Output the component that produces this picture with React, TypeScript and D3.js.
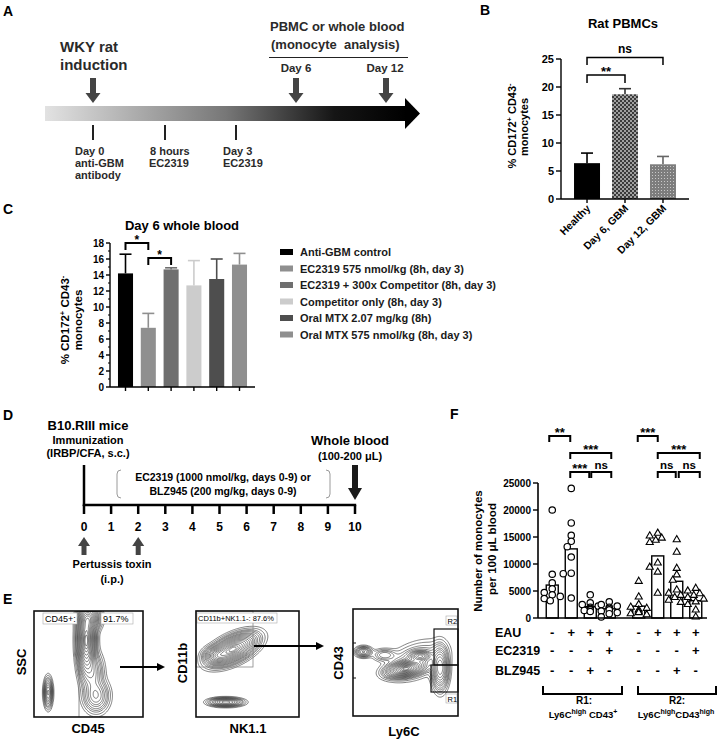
import React from "react";
import * as d3 from "d3";

const FONT = "'Liberation Sans', Arial, Helvetica, sans-serif";

// ---------- Panel B data ----------
const bCategories = ["Healthy", "Day 6, GBM", "Day 12, GBM"];
const bMeans = [6.4, 18.7, 6.2];
const bErr = [1.8, 1.0, 1.4];
const bYTicks = [0, 5, 10, 15, 20, 25];

// ---------- Panel C data ----------
const cCategories = [
  "Anti-GBM control",
  "EC2319 575 nmol/kg (8h, day 3)",
  "EC2319 + 300x Competitor (8h, day 3)",
  "Competitor only (8h, day 3)",
  "Oral MTX 2.07 mg/kg (8h)",
  "Oral MTX 575 nmol/kg (8h, day 3)",
];
const cMeans = [14.2, 7.4, 14.7, 12.7, 13.5, 15.3];
const cErr = [2.4, 1.8, 0.2, 3.1, 2.5, 1.4];
const cColors = ["#000000", "#8f8f8f", "#6f6f6f", "#cccccc", "#4e4e4e", "#8f8f8f"];
const cYTicks = [0, 2, 4, 6, 8, 10, 12, 14, 16, 18];
const cMinorTicks = [1, 3, 5, 7, 9, 11, 13, 15, 17];

// ---------- Panel D data ----------
const dDays = [0, 1, 2, 3, 4, 5, 6, 7, 8, 9, 10];
const dPertussisDays = [0, 2];

// ---------- Panel F data ----------
const fRegions = ["R1", "R2"];
const fConditions = ["naive", "EAU", "EAU+BLZ945", "EAU+EC2319"];
const fR1Bars = [6100, 12800, 2100, 1700];
const fR2Bars = [2200, 11500, 6800, 3200];
const fR1Points = [
  [20000, 8100, 6500, 5400, 4700, 4300, 4000, 3600, 3200],
  [24000, 17600, 15300, 14200, 13200, 11300, 8300, 8200, 3700],
  [4300, 2800, 2500, 2200, 2000, 1800, 1600, 1500, 1400, 1200],
  [3000, 2500, 2200, 2000, 1800, 1500, 1300, 1000, 800, 200],
];
const fR2Points = [
  [6800, 3900, 2500, 2000, 1800, 1500, 1200, 1000, 800, 600],
  [15700, 15200, 14800, 14400, 14000, 10200, 9400, 8500, 4600],
  [14500, 12200, 9200, 8000, 7000, 5200, 4600, 4200, 3800, 3300, 2900],
  [5500, 5000, 4500, 4200, 3800, 3500, 3000, 2500, 1500, 200],
];
const fYTicks = [0, 5000, 10000, 15000, 20000, 25000];
const fEAU = ["-", "+", "+", "+"];
const fEC2319 = ["-", "-", "-", "+"];
const fBLZ945 = ["-", "-", "+", "-"];

// ---------- Panel E (flow cytometry density components) ----------
type Comp = { cx: number; cy: number; sx: number; sy: number; rot: number; w: number };
const e1Comps: Comp[] = [
  { cx: 0.48, cy: 0.28, sx: 0.04, sy: 0.16, rot: 0, w: 1 },
  { cx: 0.51, cy: 0.07, sx: 0.05, sy: 0.06, rot: 0, w: 0.45 },
  { cx: 0.54, cy: 0.58, sx: 0.05, sy: 0.1, rot: 0, w: 0.18 },
  { cx: 0.57, cy: 0.8, sx: 0.06, sy: 0.08, rot: 0, w: 0.22 },
  { cx: 0.13, cy: 0.77, sx: 0.02, sy: 0.07, rot: 0, w: 0.3 },
];
const e2Comps: Comp[] = [
  { cx: 0.36, cy: 0.36, sx: 0.12, sy: 0.055, rot: -25, w: 1 },
  { cx: 0.2, cy: 0.42, sx: 0.06, sy: 0.04, rot: 0, w: 0.35 },
  { cx: 0.29, cy: 0.86, sx: 0.08, sy: 0.02, rot: 0, w: 0.4 },
];
const e3Comps: Comp[] = [
  { cx: 0.1, cy: 0.4, sx: 0.04, sy: 0.025, rot: 0, w: 0.25 },
  { cx: 0.5, cy: 0.56, sx: 0.09, sy: 0.035, rot: -10, w: 1 },
  { cx: 0.64, cy: 0.44, sx: 0.05, sy: 0.025, rot: 0, w: 0.5 },
  { cx: 0.83, cy: 0.55, sx: 0.04, sy: 0.1, rot: 0, w: 0.45 },
  { cx: 0.6, cy: 0.48, sx: 0.15, sy: 0.08, rot: -20, w: 0.12 },
  { cx: 0.3, cy: 0.43, sx: 0.06, sy: 0.03, rot: 0, w: 0.1 },
];
const contourFractions = [
  0.01, 0.02, 0.035, 0.05, 0.07, 0.1, 0.13, 0.17, 0.22, 0.28, 0.35, 0.43, 0.52, 0.62, 0.72, 0.82, 0.9, 0.96,
];

function contourPaths(comps: Comp[], w: number, h: number): string[] {
  const nx = 100, ny = 100;
  const vals: number[] = new Array(nx * ny);
  let max = 0;
  for (let j = 0; j < ny; j++) {
    for (let i = 0; i < nx; i++) {
      const u = (i + 0.5) / nx, v = (j + 0.5) / ny;
      let s = 0;
      for (const c of comps) {
        const a = (c.rot * Math.PI) / 180;
        const dx = u - c.cx, dy = v - c.cy;
        const rx = dx * Math.cos(a) + dy * Math.sin(a);
        const ry = -dx * Math.sin(a) + dy * Math.cos(a);
        s += c.w * Math.exp(-0.5 * ((rx * rx) / (c.sx * c.sx) + (ry * ry) / (c.sy * c.sy)));
      }
      vals[j * nx + i] = s;
      if (s > max) max = s;
    }
  }
  const cs = d3.contours().size([nx, ny]).thresholds(contourFractions.map((f) => f * max))(vals);
  const proj = d3.geoTransform({
    point(px: number, py: number) {
      (this as any).stream.point((px * w) / nx, (py * h) / ny);
    },
  });
  const path = d3.geoPath(proj);
  return cs.map((c) => path(c as any) || "");
}

function FlowPlot({ id, x, y, w, h, comps, children }: any) {
  const paths = React.useMemo(() => contourPaths(comps, w, h), [comps, w, h]);
  return (
    <g transform={`translate(${x},${y})`}>
      <clipPath id={id}>
        <rect x={0} y={0} width={w} height={h} />
      </clipPath>
      <g clipPath={`url(#${id})`}>
        {paths.map((d, i) => (
          <path key={i} d={d} fill="none" stroke="#2e2e2e" strokeWidth={0.6} />
        ))}
      </g>
      {children}
      <rect x={0} y={0} width={w} height={h} fill="none" stroke="#111" strokeWidth={1.6} />
    </g>
  );
}

function Arrow({ x1, x2, y }: { x1: number; x2: number; y: number }) {
  return (
    <g>
      <line x1={x1} x2={x2 - 6} y1={y} y2={y} stroke="#000" strokeWidth={2} />
      <polygon points={`${x2},${y} ${x2 - 8},${y - 4} ${x2 - 8},${y + 4}`} fill="#000" />
    </g>
  );
}

function DownArrow({ x, y0, y1, color }: { x: number; y0: number; y1: number; color: string }) {
  const hh = 10;
  return (
    <g fill={color}>
      <rect x={x - 3} y={y0} width={6} height={y1 - y0 - hh + 1} />
      <polygon points={`${x - 7.5},${y1 - hh} ${x + 7.5},${y1 - hh} ${x},${y1}`} />
    </g>
  );
}

function beeswarm(values: number[], yScale: (v: number) => number, r: number) {
  const placed: { v: number; x: number; y: number }[] = [];
  const cands = [0, -4, 4, -8, 8, -2, 2, -6, 6];
  values.forEach((v) => {
    const y = yScale(v);
    let chosen = cands[0];
    for (const c of cands) {
      if (placed.every((p) => Math.hypot(p.x - c, p.y - y) >= r * 1.8)) {
        chosen = c;
        break;
      }
    }
    placed.push({ v, x: chosen, y });
  });
  return placed;
}

export default function App() {
  const txt = { fontFamily: FONT, fontWeight: 700 as const };

  const bY = d3.scaleLinear().domain([0, 25]).range([199, 59]);
  const bX = d3.scaleBand().domain(bCategories).range([561, 689]).paddingInner(0.316).paddingOuter(0.343);
  const cY = d3.scaleLinear().domain([0, 18]).range([387, 243]);
  const cX = d3.scaleBand().domain(cCategories).range([110, 255]).paddingInner(0.34).paddingOuter(0.35);
  const dX = d3.scaleLinear().domain([0, 10]).range([84, 355]);
  const fY = d3.scaleLinear().domain([0, 25000]).range([618, 483]);
  const fOuter = d3.scaleBand().domain(fRegions).range([539.5, 708.5]).paddingInner(0.121).paddingOuter(0.0375);
  const fInner = d3.scalePoint().domain(fConditions).range([0, fOuter.bandwidth()]).padding(0.5);
  const fx = (region: string, i: number) => (fOuter(region) as number) + (fInner(fConditions[i]) as number);
  const triangle = d3.symbol().type(d3.symbolTriangle).size(22)() as string;

  const bC = (i: number) => (bX(bCategories[i]) as number) + bX.bandwidth() / 2;
  const cC = (i: number) => (cX(cCategories[i]) as number) + cX.bandwidth() / 2;

  const fBracket = (xa: number, xb: number, y: number, label: string, key: string) => {
    const isStar = label.includes("*");
    return (
      <g key={key}>
        <path d={`M${xa},${y + 6} V${y} H${xb} V${y + 6}`} fill="none" stroke="#000" strokeWidth={2} />
        <text x={(xa + xb) / 2} y={isStar ? y + 1 : y - 3} textAnchor="middle" fontSize={isStar ? 13 : 11.5} {...txt}>
          {label}
        </text>
      </g>
    );
  };

  return (
    <svg width={718} height={740} style={{ position: "absolute", left: 0, top: 0, background: "#fff" }}>
      <defs>
        <linearGradient id="aGrad" x1="0" x2="1" y1="0" y2="0">
          <stop offset="0" stopColor="#e2e2e2" />
          <stop offset="0.5" stopColor="#777" />
          <stop offset="0.8" stopColor="#151515" />
          <stop offset="1" stopColor="#000" />
        </linearGradient>
        <pattern id="checker" width={4} height={4} patternUnits="userSpaceOnUse">
          <rect width={4} height={4} fill="#a0a0a0" />
          <rect width={2} height={2} fill="#3a3a3a" />
          <rect x={2} y={2} width={2} height={2} fill="#3a3a3a" />
        </pattern>
        <pattern id="dots" width={3} height={3} patternUnits="userSpaceOnUse">
          <rect width={3} height={3} fill="#7d7d7d" />
          <rect x={1} y={1} width={1} height={1} fill="#c8c8c8" />
        </pattern>
      </defs>
      <rect width={718} height={740} fill="#fff" />

      {/* ================= Panel A ================= */}
      <g>
        <text x={3} y={16} fontSize={14} {...txt}>A</text>
        <text x={60} y={52} fontSize={15} fill="#2a2a2a" {...txt}>WKY rat</text>
        <text x={60} y={70} fontSize={15} fill="#2a2a2a" {...txt}>induction</text>
        <text x={270} y={31} fontSize={13} fill="#2a2a2a" {...txt}>PBMC or whole blood</text>
        <text x={271} y={49} fontSize={13} fill="#2a2a2a" {...txt} xmlSpace="preserve">(monocyte  analysis)</text>
        <line x1={269} x2={408} y1={57.5} y2={57.5} stroke="#222" strokeWidth={1.2} />
        <text x={296} y={72} fontSize={11.5} textAnchor="middle" fill="#2a2a2a" {...txt}>Day 6</text>
        <text x={385} y={72} fontSize={11.5} textAnchor="middle" fill="#2a2a2a" {...txt}>Day 12</text>
        <DownArrow x={93} y0={78} y1={103} color="#444" />
        <DownArrow x={296} y0={78} y1={103} color="#444" />
        <DownArrow x={386} y0={78} y1={103} color="#444" />
        <rect x={45} y={106} width={362} height={15} fill="url(#aGrad)" />
        <polygon points="405,98 420,113.5 405,129" fill="#000" />
        {[93, 165, 236].map((x) => (
          <line key={x} x1={x} x2={x} y1={125} y2={140} stroke="#222" strokeWidth={2} />
        ))}
        <g fontSize={11} fill="#2a2a2a" {...txt}>
          <text x={75} y={155}>Day 0</text>
          <text x={75} y={167}>anti-GBM</text>
          <text x={75} y={179}>antibody</text>
          <text x={150} y={155}>8 hours</text>
          <text x={149} y={167}>EC2319</text>
          <text x={223} y={155}>Day 3</text>
          <text x={223} y={167}>EC2319</text>
        </g>
      </g>

      {/* ================= Panel B ================= */}
      <g>
        <text x={480} y={15} fontSize={14} {...txt}>B</text>
        <text x={623} y={28} fontSize={13} textAnchor="middle" {...txt}>Rat PBMCs</text>
        {bCategories.map((c, i) => {
          const x0 = bX(c) as number;
          const fill = i === 0 ? "#000" : i === 1 ? "url(#checker)" : "url(#dots)";
          const ec = i === 0 ? "#000" : i === 1 ? "#333" : "#666";
          return (
            <g key={c}>
              <line x1={bC(i)} x2={bC(i)} y1={bY(bMeans[i])} y2={bY(bMeans[i] + bErr[i])} stroke={ec} strokeWidth={1.6} />
              <line x1={bC(i) - 6} x2={bC(i) + 6} y1={bY(bMeans[i] + bErr[i])} y2={bY(bMeans[i] + bErr[i])} stroke={ec} strokeWidth={1.6} />
              <rect x={x0} y={bY(bMeans[i])} width={bX.bandwidth()} height={bY(0) - bY(bMeans[i])} fill={fill} />
            </g>
          );
        })}
        <line x1={561} x2={561} y1={bY(25)} y2={bY(0)} stroke="#000" strokeWidth={1.4} />
        <line x1={561} x2={689} y1={bY(0)} y2={bY(0)} stroke="#000" strokeWidth={1.4} />
        {bYTicks.map((t) => (
          <g key={t}>
            <line x1={556} x2={561} y1={bY(t)} y2={bY(t)} stroke="#000" strokeWidth={1.4} />
            <text x={554} y={bY(t) + 4} fontSize={11} textAnchor="end" {...txt}>{t}</text>
          </g>
        ))}
        {bCategories.map((c, i) => (
          <g key={c}>
            <line x1={bC(i)} x2={bC(i)} y1={bY(0)} y2={bY(0) + 4} stroke="#000" strokeWidth={1.4} />
            <text transform={`translate(${bC(i) + 4},${bY(0) + 10}) rotate(-45)`} fontSize={10.5} textAnchor="end" {...txt}>
              {c}
            </text>
          </g>
        ))}
        <text transform={`translate(516,126) rotate(-90)`} fontSize={11} textAnchor="middle" {...txt}>
          % CD172<tspan dy={-4} fontSize={7.5}>+</tspan>
          <tspan dy={4}> CD43</tspan>
          <tspan dy={-4} fontSize={7.5}>-</tspan>
        </text>
        <text transform={`translate(528,127) rotate(-90)`} fontSize={11} textAnchor="middle" {...txt}>monocytes</text>
        <path d={`M${bC(0)},65 V57.5 H${bC(2)} V65`} fill="none" stroke="#000" strokeWidth={1.5} />
        <text x={(bC(0) + bC(2)) / 2} y={53} fontSize={12} textAnchor="middle" {...txt}>ns</text>
        <path d={`M${bC(0)},83 V75 H${bC(1)} V83`} fill="none" stroke="#000" strokeWidth={1.5} />
        <text x={(bC(0) + bC(1)) / 2} y={76} fontSize={13} textAnchor="middle" {...txt}>**</text>
      </g>

      {/* ================= Panel C ================= */}
      <g>
        <text x={3} y={214} fontSize={14} {...txt}>C</text>
        <text x={182} y={230} fontSize={13} textAnchor="middle" {...txt}>Day 6 whole blood</text>
        {cCategories.map((c, i) => {
          const x0 = cX(c) as number;
          const top = cY(cMeans[i] + cErr[i]);
          return (
            <g key={c}>
              <line x1={cC(i)} x2={cC(i)} y1={cY(cMeans[i])} y2={top} stroke={cColors[i]} strokeWidth={1.6} />
              <line x1={cC(i) - 6} x2={cC(i) + 6} y1={top} y2={top} stroke={cColors[i]} strokeWidth={1.6} />
              <rect x={x0} y={cY(cMeans[i])} width={cX.bandwidth()} height={cY(0) - cY(cMeans[i])} fill={cColors[i]} />
            </g>
          );
        })}
        <line x1={110} x2={110} y1={cY(18)} y2={cY(0)} stroke="#000" strokeWidth={1.4} />
        <line x1={110} x2={255} y1={cY(0)} y2={cY(0)} stroke="#000" strokeWidth={1.4} />
        {cYTicks.map((t) => (
          <g key={t}>
            <line x1={106} x2={110} y1={cY(t)} y2={cY(t)} stroke="#000" strokeWidth={1.4} />
            <text x={104} y={cY(t) + 3.5} fontSize={10} textAnchor="end" {...txt}>{t}</text>
          </g>
        ))}
        {cMinorTicks.map((t) => (
          <line key={t} x1={108} x2={110} y1={cY(t)} y2={cY(t)} stroke="#000" strokeWidth={1} />
        ))}
        {cCategories.map((c, i) => (
          <line key={c} x1={cC(i)} x2={cC(i)} y1={cY(0)} y2={cY(0) + 4} stroke="#000" strokeWidth={1.4} />
        ))}
        <text transform={`translate(69,320) rotate(-90)`} fontSize={11.5} textAnchor="middle" {...txt}>
          % CD172<tspan dy={-4} fontSize={7.5}>+</tspan>
          <tspan dy={4}> CD43</tspan>
          <tspan dy={-4} fontSize={7.5}>-</tspan>
        </text>
        <text transform={`translate(82,320) rotate(-90)`} fontSize={11.5} textAnchor="middle" {...txt}>monocytes</text>
        <path d={`M${cC(0)},250 V243 H${cC(1)} V250`} fill="none" stroke="#000" strokeWidth={2} />
        <text x={(cC(0) + cC(1)) / 2} y={244} fontSize={12} textAnchor="middle" {...txt}>*</text>
        <path d={`M${cC(1)},265 V258 H${cC(2)} V265`} fill="none" stroke="#000" strokeWidth={2} />
        <text x={(cC(1) + cC(2)) / 2} y={259} fontSize={12} textAnchor="middle" {...txt}>*</text>
        {cCategories.map((c, i) => (
          <g key={c} transform={`translate(280,${252 + i * 16.5})`}>
            <rect x={0} y={-3} width={13} height={6} fill={cColors[i]} />
            <text x={20} y={4} fontSize={11} fill="#1a1a1a" {...txt}>{c}</text>
          </g>
        ))}
      </g>

      {/* ================= Panel D ================= */}
      <g>
        <text x={3} y={420} fontSize={14} {...txt}>D</text>
        <text x={88} y={430} fontSize={13} textAnchor="middle" {...txt}>B10.RIII mice</text>
        <text x={88} y={444} fontSize={11} textAnchor="middle" {...txt}>Immunization</text>
        <text x={88} y={457} fontSize={11} textAnchor="middle" {...txt}>(IRBP/CFA, s.c.)</text>
        <text x={350} y={445} fontSize={13} textAnchor="middle" {...txt}>Whole blood</text>
        <text x={350} y={460} fontSize={11} textAnchor="middle" {...txt}>(100-200 μL)</text>
        <line x1={dX(0)} x2={dX(0)} y1={465} y2={506} stroke="#000" strokeWidth={2.5} />
        <line x1={dX(0) - 1.2} x2={dX(10) + 1.2} y1={505} y2={505} stroke="#000" strokeWidth={2.5} />
        {dDays.map((d) => (
          <g key={d}>
            <line x1={dX(d)} x2={dX(d)} y1={505} y2={514} stroke="#000" strokeWidth={2.5} />
            <text x={dX(d)} y={531} fontSize={12} textAnchor="middle" {...txt}>{d}</text>
          </g>
        ))}
        <path d="M121,470 Q117,470 117,474 L117,494 Q117,498 121,498" fill="none" stroke="#9a9a9a" strokeWidth={1} />
        <path d="M326,470 Q330,470 330,474 L330,494 Q330,498 326,498" fill="none" stroke="#9a9a9a" strokeWidth={1} />
        <text x={223} y={481} fontSize={10.5} textAnchor="middle" {...txt}>EC2319 (1000 nmol/kg, days 0-9) or</text>
        <text x={223} y={495} fontSize={10.5} textAnchor="middle" {...txt}>BLZ945 (200 mg/kg, days 0-9)</text>
        <g fill="#1a1a1a">
          <rect x={dX(10) - 3} y={465} width={6} height={25} />
          <polygon points={`${dX(10) - 7},${488} ${dX(10) + 7},${488} ${dX(10)},${500}`} />
        </g>
        {dPertussisDays.map((d) => (
          <g key={d} fill="#444">
            <rect x={dX(d) - 2.5} y={545} width={5} height={10} />
            <polygon points={`${dX(d) - 6},${546} ${dX(d) + 6},${546} ${dX(d)},${537}`} />
          </g>
        ))}
        <text x={112} y={568} fontSize={11} textAnchor="middle" {...txt}>Pertussis toxin</text>
        <text x={112} y={583} fontSize={11} textAnchor="middle" {...txt}>(i.p.)</text>
      </g>

      {/* ================= Panel E ================= */}
      <g>
        <text x={3} y={604} fontSize={14} {...txt}>E</text>
        <FlowPlot id="e1" x={34} y={611} w={109} h={106} comps={e1Comps}>
          <line x1={45} x2={45} y1={0} y2={106} stroke="#777" strokeWidth={0.8} />
          <rect x={9} y={2} width={34} height={11} fill="#fff" stroke="#aaa" strokeWidth={0.6} />
          <text x={11} y={11} fontSize={9} fontFamily={FONT}>CD45+:</text>
          <rect x={67} y={2} width={32} height={11} fill="#fff" stroke="#aaa" strokeWidth={0.6} />
          <text x={69} y={11} fontSize={9} fontFamily={FONT}>91.7%</text>
        </FlowPlot>
        <text transform="translate(26,662) rotate(-90)" fontSize={13} textAnchor="middle" {...txt}>SSC</text>
        <text x={88} y={733} fontSize={13} textAnchor="middle" {...txt}>CD45</text>
        <Arrow x1={120} x2={165} y={667} />

        <FlowPlot id="e2" x={196} y={611} w={103} h={106} comps={e2Comps}>
          <rect x={0} y={0} width={57} height={56} fill="none" stroke="#888" strokeWidth={0.8} />
          <rect x={1} y={2} width={80} height={10} fill="#fff" stroke="#aaa" strokeWidth={0.6} />
          <text x={2} y={10} fontSize={7.5} fontFamily={FONT}>CD11b+NK1.1-: 87.6%</text>
        </FlowPlot>
        <text transform="translate(187,663) rotate(-90)" fontSize={13} textAnchor="middle" {...txt}>CD11b</text>
        <text x={248} y={733} fontSize={13} textAnchor="middle" {...txt}>NK1.1</text>
        <Arrow x1={254} x2={324} y={646} />

        <FlowPlot id="e3" x={353} y={609} w={105} h={107} comps={e3Comps}>
          <rect x={81} y={20} width={24} height={36} fill="none" stroke="#111" strokeWidth={1.2} />
          <rect x={78} y={56} width={27} height={27} fill="none" stroke="#111" strokeWidth={1.2} />
          <rect x={93} y={7} width={11} height={9} fill="#fff" stroke="#aaa" strokeWidth={0.6} />
          <text x={94.5} y={14.5} fontSize={7.5} fontFamily={FONT}>R2</text>
          <rect x={93} y={85} width={11} height={9} fill="#fff" stroke="#aaa" strokeWidth={0.6} />
          <text x={94.5} y={92.5} fontSize={7.5} fontFamily={FONT}>R1</text>
          <line x1={0} x2={3} y1={34} y2={34} stroke="#111" strokeWidth={1} />
          <line x1={0} x2={3} y1={69} y2={69} stroke="#111" strokeWidth={1} />
        </FlowPlot>
        <text transform="translate(343,663) rotate(-90)" fontSize={13} textAnchor="middle" {...txt}>CD43</text>
        <text x={404} y={736} fontSize={13} textAnchor="middle" {...txt}>Ly6C</text>
      </g>

      {/* ================= Panel F ================= */}
      <g>
        <text x={450} y={419} fontSize={14} {...txt}>F</text>
        {fRegions.map((reg, ri) => {
          const bars = ri === 0 ? fR1Bars : fR2Bars;
          const pts = ri === 0 ? fR1Points : fR2Points;
          return (
            <g key={reg}>
              {bars.map((v, i) => (
                <rect key={i} x={fx(reg, i) - 6} y={fY(v)} width={12} height={fY(0) - fY(v)} fill="#fff" stroke="#000" strokeWidth={1.4} />
              ))}
              {pts.map((vals, i) => {
                const cx = fx(reg, i);
                return beeswarm(vals, fY, 3.3).map((p, k) =>
                  ri === 0 ? (
                    <circle key={`${i}-${k}`} cx={cx + p.x} cy={p.y} r={3.2} fill="#fff" stroke="#000" strokeWidth={1.2} />
                  ) : (
                    <path key={`${i}-${k}`} d={triangle} transform={`translate(${cx + p.x},${p.y})`} fill="#fff" stroke="#000" strokeWidth={1.1} />
                  )
                );
              })}
            </g>
          );
        })}
        <line x1={538} x2={538} y1={fY(25000)} y2={fY(0)} stroke="#000" strokeWidth={1.6} />
        <line x1={538} x2={707} y1={fY(0)} y2={fY(0)} stroke="#000" strokeWidth={1.6} />
        {fYTicks.map((t) => (
          <g key={t}>
            <line x1={533} x2={538} y1={fY(t)} y2={fY(t)} stroke="#000" strokeWidth={1.4} />
            <text x={531} y={fY(t) + 3.5} fontSize={10} textAnchor="end" {...txt}>{t}</text>
          </g>
        ))}
        <text transform="translate(482,551) rotate(-90)" fontSize={11.5} textAnchor="middle" {...txt}>Number of monocytes</text>
        <text transform="translate(496,549) rotate(-90)" fontSize={11.5} textAnchor="middle" {...txt}>per 100 μL blood</text>

        {[
          { label: "EAU", vals: fEAU, y: 637 },
          { label: "EC2319", vals: fEC2319, y: 655 },
          { label: "BLZ945", vals: fBLZ945, y: 675 },
        ].map((row) => (
          <g key={row.label}>
            <text x={495} y={row.y} fontSize={12.5} {...txt}>{row.label}</text>
            {fRegions.map((reg) =>
              row.vals.map((s, i) => (
                <text key={reg + i} x={fx(reg, i)} y={row.y} fontSize={13} textAnchor="middle" {...txt}>{s}</text>
              ))
            )}
          </g>
        ))}
        <path d="M543,686 V694 H622 V686" fill="none" stroke="#000" strokeWidth={2} />
        <path d="M638,686 V694 H716 V686" fill="none" stroke="#000" strokeWidth={2} />
        <text x={584} y={704} fontSize={10} textAnchor="middle" {...txt}>R1:</text>
        <text x={583} y={718} fontSize={9.5} textAnchor="middle" {...txt}>
          Ly6C<tspan dy={-4} fontSize={7}>high</tspan>
          <tspan dy={4}> CD43</tspan>
          <tspan dy={-4} fontSize={7}>+</tspan>
        </text>
        <text x={677} y={704} fontSize={10} textAnchor="middle" {...txt}>R2:</text>
        <text x={676} y={718} fontSize={9.5} textAnchor="middle" {...txt}>
          Ly6C<tspan dy={-4} fontSize={7}>high</tspan>
          <tspan dy={4}>CD43</tspan>
          <tspan dy={-4} fontSize={7}>high</tspan>
        </text>

        {fBracket(fx("R1", 0) - 3, fx("R1", 1) - 1, 436, "**", "f1")}
        {fBracket(fx("R1", 1) - 1, fx("R1", 3) + 2, 453, "***", "f2")}
        {fBracket(fx("R1", 1) - 1, fx("R1", 2) - 1, 472, "***", "f3")}
        {fBracket(fx("R1", 2) + 1, fx("R1", 3) + 2, 472, "ns", "f4")}
        {fBracket(fx("R2", 0) - 1, fx("R2", 1), 436, "***", "f5")}
        {fBracket(fx("R2", 1), fx("R2", 3) + 4, 453, "***", "f6")}
        {fBracket(fx("R2", 1), fx("R2", 2) - 1, 472, "ns", "f7")}
        {fBracket(fx("R2", 2) + 2, fx("R2", 3) + 4, 472, "ns", "f8")}
      </g>
    </svg>
  );
}
